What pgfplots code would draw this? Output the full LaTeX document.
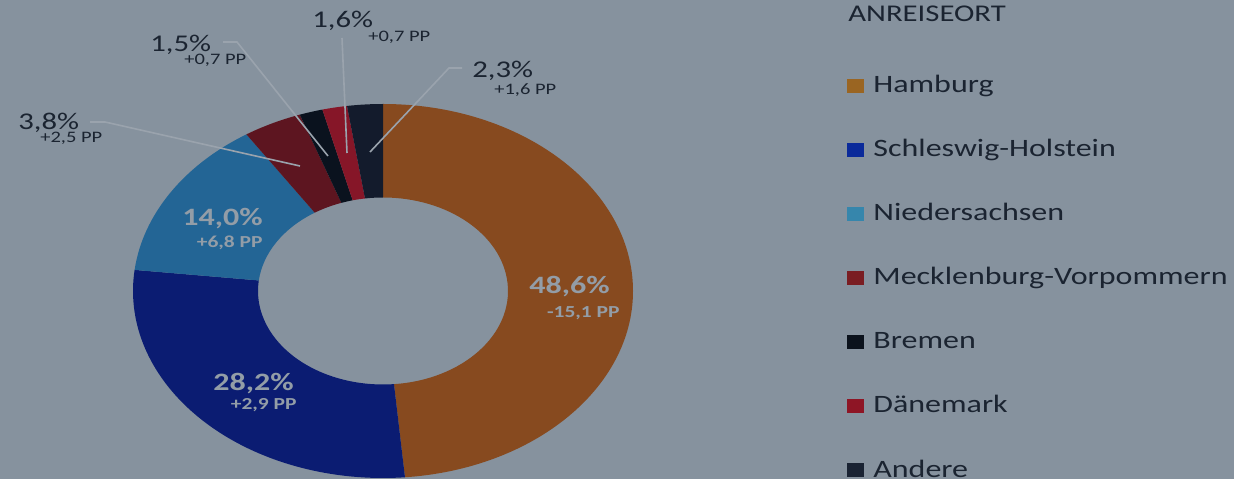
\documentclass[border=0pt]{standalone}
\usepackage{fontspec}
\setmainfont{Carlito}[FakeStretch=1.28]
\usepackage{pgfplots}
\usepackage{pgfplotstable}
\pgfplotsset{compat=1.18}

\definecolor{bg}{HTML}{86929E}
\definecolor{txt}{HTML}{1B2431}
\definecolor{inlbl}{HTML}{939DA7}
\definecolor{leader}{HTML}{9AA3AD}
% slice colours
\definecolor{c0}{HTML}{874A1F}
\definecolor{c1}{HTML}{0B1C72}
\definecolor{c2}{HTML}{236595}
\definecolor{c3}{HTML}{5D1520}
\definecolor{c4}{HTML}{0A121E}
\definecolor{c5}{HTML}{861628}
\definecolor{c6}{HTML}{131B2C}
% legend swatches
\definecolor{l0}{HTML}{9A6522}
\definecolor{l1}{HTML}{0B2A9A}
\definecolor{l2}{HTML}{3686AC}
\definecolor{l3}{HTML}{7A1D22}
\definecolor{l4}{HTML}{0B121C}
\definecolor{l5}{HTML}{8E1525}
\definecolor{l6}{HTML}{1A2333}

\pgfplotstableread{
name pct
Hamburg 48.6
Schleswig-Holstein 28.2
Niedersachsen 14.0
Mecklenburg-Vorpommern 3.8
Bremen 1.5
Dänemark 1.6
Andere 2.3
}\anreise

\begin{document}
\begin{tikzpicture}
% start/end angle of each slice, clockwise from 12 o'clock
\def\cum{0}
\foreach \i in {0,...,6} {
  \pgfplotstablegetelem{\i}{name}\of\anreise
  \expandafter\xdef\csname lg\i\endcsname{\pgfplotsretval}
  \pgfplotstablegetelem{\i}{pct}\of\anreise
  \pgfmathsetmacro\a{90-3.6*\cum}
  \pgfmathsetmacro\cumnew{\cum+\pgfplotsretval}
  \pgfmathsetmacro\b{90-3.6*\cumnew}
  \expandafter\xdef\csname sa\i\endcsname{\a}
  \expandafter\xdef\csname sb\i\endcsname{\b}
  \xdef\cum{\cumnew}
}
\begin{axis}[
    width=617bp, height=239.5bp,
    scale only axis,
    hide axis,
    xmin=0, xmax=1234, ymin=0, ymax=479,
    clip=false,
]
\fill[bg] (axis cs:0,0) rectangle (axis cs:1234,479);
\coordinate (BL) at (axis cs:0,0);
\coordinate (TR) at (axis cs:1234,479);
\coordinate (C) at (axis cs:383,188);

% donut
\pgfplotsinvokeforeach{0,...,6}{
  \fill[c#1] ([shift={(C)}]\csname sa#1\endcsname:125bp and 93.5bp)
    arc[start angle=\csname sa#1\endcsname, end angle=\csname sb#1\endcsname,
        x radius=125bp, y radius=93.5bp]
    -- ([shift={(C)}]\csname sb#1\endcsname:62.5bp and 46.75bp)
    arc[start angle=\csname sb#1\endcsname, end angle=\csname sa#1\endcsname,
        x radius=62.5bp, y radius=46.75bp]
    -- cycle;
}

% labels inside the ring
\begin{scope}[inlbl]
\node[anchor=base east, inner sep=0, font=\fontsize{12.5bp}{14bp}\selectfont\bfseries] at (axis cs:610,185) {48,6\%};
\node[anchor=base east, inner sep=0, font=\fontsize{8.4bp}{10bp}\selectfont\bfseries] at (axis cs:620,161) {-15,1 PP};
\node[anchor=base east, inner sep=0, font=\fontsize{12.5bp}{14bp}\selectfont\bfseries] at (axis cs:294,88) {28,2\%};
\node[anchor=base east, inner sep=0, font=\fontsize{8.4bp}{10bp}\selectfont\bfseries] at (axis cs:297,69) {+2,9 PP};
\node[anchor=base east, inner sep=0, font=\fontsize{12.5bp}{14bp}\selectfont\bfseries] at (axis cs:263,253) {14,0\%};
\node[anchor=base east, inner sep=0, font=\fontsize{8.4bp}{10bp}\selectfont\bfseries] at (axis cs:263,231) {+6,8 PP};
\end{scope}

% leader lines
\draw[leader, line width=0.8bp] (axis cs:90,357) -- (axis cs:105,357) -- (axis cs:300,313);
\draw[leader, line width=0.8bp] (axis cs:223,437) -- (axis cs:237,437) -- (axis cs:328,323);
\draw[leader, line width=0.8bp] (axis cs:342,441) -- (axis cs:347,326);
\draw[leader, line width=0.8bp] (axis cs:462,411) -- (axis cs:449,411) -- (axis cs:370,327);

% labels outside the ring
\begin{scope}[txt]
\node[anchor=base west, inner sep=0, font=\fontsize{12bp}{14bp}\selectfont] at (axis cs:18,349) {3,8\%};
\node[anchor=base west, inner sep=0, font=\fontsize{8bp}{10bp}\selectfont] at (axis cs:40,336) {+2,5 PP};
\node[anchor=base west, inner sep=0, font=\fontsize{12bp}{14bp}\selectfont] at (axis cs:150,427) {1,5\%};
\node[anchor=base west, inner sep=0, font=\fontsize{8bp}{10bp}\selectfont] at (axis cs:184,414) {+0,7 PP};
\node[anchor=base west, inner sep=0, font=\fontsize{12bp}{14bp}\selectfont] at (axis cs:312,451) {1,6\%};
\node[anchor=base west, inner sep=0, font=\fontsize{8bp}{10bp}\selectfont] at (axis cs:368,437) {+0,7 PP};
\node[anchor=base west, inner sep=0, font=\fontsize{12bp}{14bp}\selectfont] at (axis cs:472,401) {2,3\%};
\node[anchor=base west, inner sep=0, font=\fontsize{8bp}{10bp}\selectfont] at (axis cs:494,384) {+1,6 PP};
\end{scope}

% legend
\node[txt, anchor=base west, inner sep=0, font=\fontsize{12bp}{14bp}\selectfont] at (axis cs:848,457) {ANREISEORT};
\pgfplotsinvokeforeach{0,...,6}{
  \fill[l#1] (axis cs:847,{386-64*#1}) rectangle (axis cs:864,{400-64*#1});
  \node[txt, anchor=base west, inner sep=0, font=\fontsize{12.5bp}{14bp}\selectfont]
    at (axis cs:873,{386-64*#1}) {\csname lg#1\endcsname};
}
\end{axis}
\pgfresetboundingbox
\path[use as bounding box] (BL) rectangle (TR);
\end{tikzpicture}
\end{document}
